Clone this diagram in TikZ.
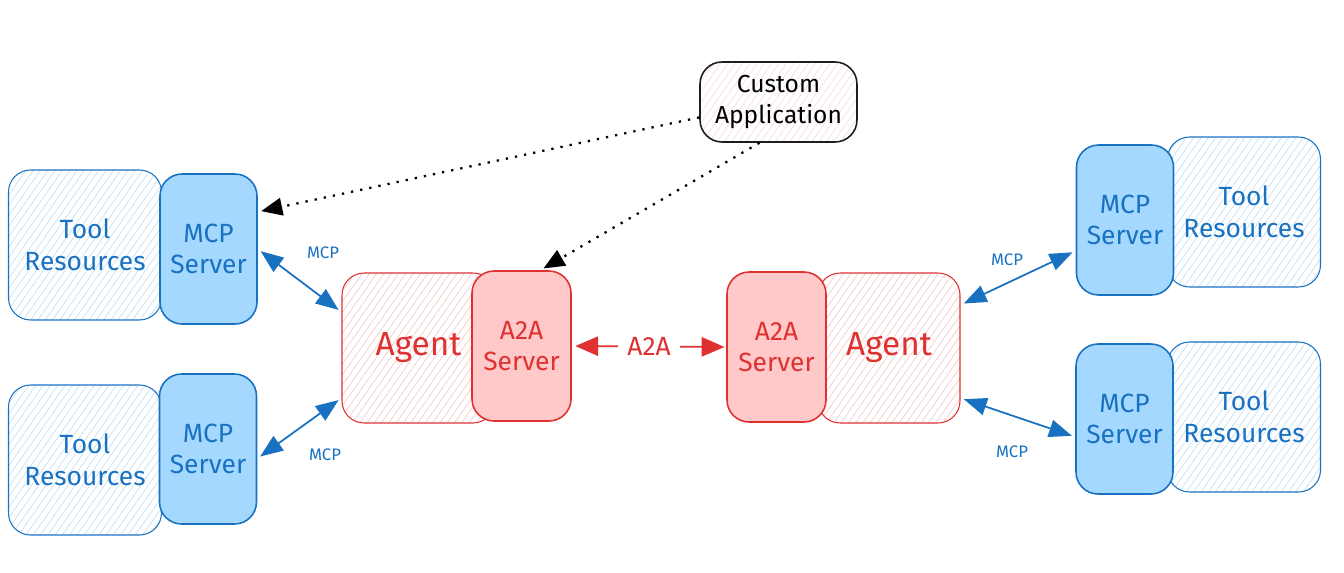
\documentclass[tikz,border=0pt]{standalone}
\usepackage{fontspec}
\setmainfont{Fira Sans}
\usetikzlibrary{arrows.meta,patterns.meta}

\definecolor{mcpblue}{HTML}{1971C2}
\definecolor{mcpfill}{HTML}{A5D8FF}
\definecolor{hatchblue}{HTML}{BCDDF5}
\definecolor{a2ared}{HTML}{E03131}
\definecolor{a2afill}{HTML}{FFC9C9}
\definecolor{hatchred}{HTML}{F4C4C4}
\definecolor{hatchpink}{HTML}{F5DADA}
\definecolor{inkgray}{HTML}{1E1E1E}

\begin{document}
\begin{tikzpicture}[x = 0.02cm, y = -0.02cm,
  box/.style     = {rectangle, rounded corners = 0.44cm, minimum height = 3.0cm, align = center, inner sep = 0pt},
  toolbox/.style = {box, draw = mcpblue, line width = 0.6pt, minimum width = 3.06cm, text = mcpblue,
                    pattern = {Lines[angle = 55, distance = 3.4pt, line width = 0.35pt]}, pattern color = hatchblue,
                    font = \fontsize{15}{18}\selectfont},
  mcpbox/.style  = {box, draw = mcpblue, line width = 0.9pt, minimum width = 1.94cm, fill = mcpfill, text = mcpblue,
                    font = \fontsize{15}{18}\selectfont},
  agentbox/.style = {box, draw = a2ared, line width = 0.6pt, text = a2ared,
                    pattern = {Lines[angle = 55, distance = 3.4pt, line width = 0.35pt]}, pattern color = hatchred,
                    font = \fontsize{19}{22}\selectfont},
  a2abox/.style  = {box, draw = a2ared, line width = 0.9pt, minimum width = 1.98cm, fill = a2afill, text = a2ared,
                    font = \fontsize{15}{18}\selectfont},
  appbox/.style  = {box, draw = inkgray, line width = 0.9pt, minimum width = 3.14cm, minimum height = 1.6cm,
                    pattern = {Lines[angle = 55, distance = 3.4pt, line width = 0.35pt]}, pattern color = hatchpink,
                    font = \fontsize{14}{18}\selectfont},
  mcplink/.style = {draw = mcpblue, line width = 1pt, shorten <= 2pt, shorten >= 2pt,
                    {Triangle[length = 13pt, width = 10pt]}-{Triangle[length = 13pt, width = 10pt]}},
  a2alink/.style = {draw = a2ared, line width = 1pt, shorten <= 2pt, shorten >= 1pt,
                    {Triangle[length = 13pt, width = 11pt]}-{Triangle[length = 13pt, width = 11pt]}},
  call/.style    = {draw = black, line width = 1.3pt, dash pattern = on 1.3pt off 4pt, shorten >= 2pt,
                    -{Triangle[length = 12pt, width = 10pt]}},
  mcplbl/.style  = {text = mcpblue, font = \fontsize{9.5}{10}\selectfont},
  a2albl/.style  = {text = a2ared, fill = white, inner xsep = 5pt, font = \fontsize{15}{18}\selectfont}
]

  \useasboundingbox (0,0) rectangle (1344,572);

  % Left tools
  \node[toolbox] (ltTool) at (85, 245) {Tool\\Resources};
  \node[mcpbox ] (ltMCP)  at (208.5, 249) {MCP\\Server};
  \node[toolbox] (lbTool) at (85, 460) {Tool\\Resources};
  \node[mcpbox ] (lbMCP)  at (208, 449) {MCP\\Server};

  % Agents
  \node[agentbox, minimum width = 3.06cm] (agentL) at (418.5, 348) {Agent};
  \node[a2abox] (a2aL) at (521.5, 346) {A2A\\Server};
  \node[agentbox, minimum width = 2.84cm] (agentR) at (889, 348) {Agent};
  \node[a2abox] (a2aR) at (776.5, 347) {A2A\\Server};

  % Right tools
  \node[toolbox] (rtTool) at (1244, 212) {Tool\\Resources};
  \node[mcpbox ] (rtMCP)  at (1125, 220) {MCP\\Server};
  \node[toolbox] (rbTool) at (1244, 417) {Tool\\Resources};
  \node[mcpbox ] (rbMCP)  at (1124.5, 419) {MCP\\Server};

  % Custom application
  \node[appbox] (app) at (778.5, 102) {Custom\\Application};

  % Calls from the application
  \draw[call] (app.191) -- (ltMCP.37);
  \draw[call] (app.245) -- (a2aL.76);

  % MCP links
  \draw[mcplink] (ltMCP.east) -- (agentL.155);
  \draw[mcplink] (lbMCP.-11)  -- (agentL.213);
  \draw[mcplink] (agentR.31)  -- (rtMCP.212);
  \draw[mcplink] (agentR.-35) -- (rbMCP.200);

  \node[mcplbl] (lblMCP1) at (323, 253) {MCP};
  \node[mcplbl] (lblMCP2) at (325, 455) {MCP};
  \node[mcplbl] (lblMCP3) at (1007, 260) {MCP};
  \node[mcplbl] (lblMCP4) at (1012, 452) {MCP};

  % A2A link
  \draw[a2alink] (a2aL.east) -- node[a2albl] (lblA2A) {A2A} (a2aR.west);

\end{tikzpicture}
\end{document}
